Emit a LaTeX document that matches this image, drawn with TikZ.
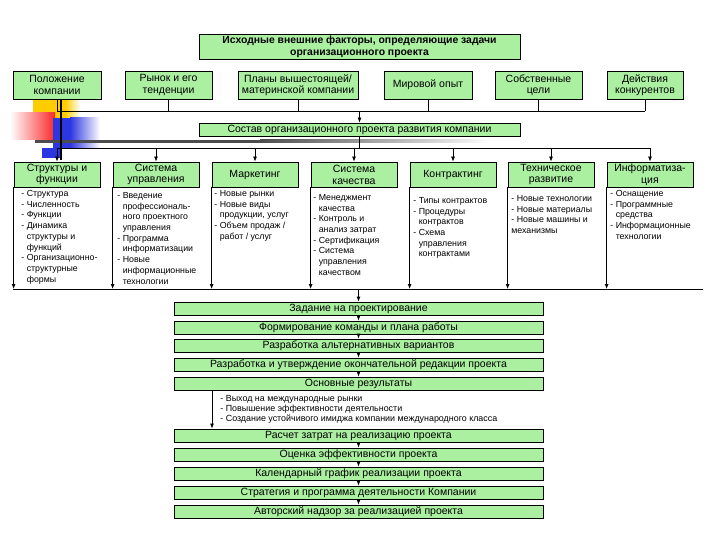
\documentclass[tikz,border=0pt]{standalone}
\usepackage{fontspec}
\setmainfont{Liberation Sans}
\usetikzlibrary{positioning,calc,arrows.meta}
\definecolor{boxgreen}{RGB}{170,240,160}
\definecolor{tplyellow}{RGB}{255,204,0}
\definecolor{tplred}{RGB}{250,40,40}
\definecolor{tplblue}{RGB}{45,55,225}
\newcommand{\contline}{\hphantom{-~}}

\tikzset{
  factorbox/.style={draw, fill=boxgreen, align=center, inner sep=0pt,
    minimum height=28pt, font=\fontsize{10.5}{11.5}\selectfont},
  topicbox/.style={draw, fill=boxgreen, align=center, inner sep=0pt,
    minimum width=86pt, minimum height=25pt, font=\fontsize{10.5}{11.8}\selectfont},
  stagebox/.style={draw, fill=boxgreen, inner sep=0pt,
    minimum width=369pt, minimum height=13pt, font=\fontsize{10.5}{11.5}\selectfont},
  notes/.style={align=left, inner sep=0pt, anchor=north west,
    font=\fontsize{8.8}{10.7}\selectfont}
}

\begin{document}
\begin{tikzpicture}[x=1pt, y=-1pt, line width=0.8pt, >={Latex[length=5pt,width=4pt]}]
  \useasboundingbox[fill=white] (0,0) rectangle (720,540);

  % template decoration
  \fill[tplyellow] (33,99) rectangle (65,118);
  \shade[left color=tplyellow, right color=white] (65,99) rectangle (80,118);
  \shade[left color=white, right color=tplred] (10,113) rectangle (55,140);
  \fill[tplblue] (53,118) rectangle (70,148);
  \shade[left color=tplblue, right color=white] (70,118) rectangle (100,148);
  \fill[tplblue] (42,148) rectangle (62,158);
  \fill[black!70] (35,140) rectangle (260,143);
  \shade[left color=black!70, right color=white] (260,140) rectangle (490,143);
  \draw[line width=2.5pt] (61,99) -- (61,160);

  \coordinate (busA) at (0,111);
  \coordinate (busB) at (0,148);
  \coordinate (busCl) at (13,289);
  \coordinate (busCr) at (703,289);

  \node[draw, fill=boxgreen, align=center, inner sep=0pt, minimum width=321pt,
    minimum height=25pt, font=\fontsize{10.4}{12}\selectfont\bfseries] (title) at (359.5,46.5)
    {Исходные внешние факторы, определяющие задачи\\организационного проекта};

  % external factors
  \foreach \l/\r/\t [count=\i] in {13/101/{Положение\\компании},
      125/212/{Рынок и его\\тенденции},
      238/358/{Планы вышестоящей/\\материнской компании},
      384/472/{Мировой опыт},
      495/582/{Собственные\\цели},
      607/683/{Действия\\конкурентов}}
    {
      \node[factorbox, minimum width={(\r-\l)*1pt}] (f\i) at ({(\l+\r)/2},85) {\t};
      \draw (f\i.south) -- (f\i.south |- busA);
    }
  \draw (f1.south |- busA) -- (f6.south |- busA);

  \node[draw, fill=boxgreen, inner sep=0pt, minimum width=321pt, minimum height=13pt,
    font=\fontsize{10.5}{11.5}\selectfont] (sostav) at (359.5,129.5)
    {Состав организационного проекта развития компании};
  \draw[->] (sostav.north |- busA) -- (sostav.north);
  \draw (sostav.south) -- (sostav.south |- busB);

  % project parts
  \foreach \l/\t [count=\i] in {14/{Структуры и\\функции}, 113/{Система\\управления},
      212/Маркетинг, 311/{Система\\качества}, 410/Контрактинг,
      508/{Техническое\\развитие}, 607/{Информатиза-\\ция}}
    {
      \node[topicbox] (c\i) at (\l+43,174.5) {\t};
      \draw[->] (c\i.north |- busB) -- (c\i.north);
      \draw[->] (c\i.south west) -- (c\i.south west |- busCl);
    }
  \draw (c1.north |- busB) -- (c7.north |- busB);
  \draw (busCl) -- (busCr);

  \foreach \x/\y/\t [count=\i] in {
      21/190/{- Структура\\- Численность\\- Функции\\- Динамика\\\contline структуры и\\\contline функций\\- Организационно-\\\contline структурные\\\contline формы},
      117/192/{- Введение\\\contline профессиональ-\\\contline ного проектного\\\contline управления\\- Программа\\\contline информатизации\\- Новые\\\contline информационные\\\contline технологии},
      214/190/{- Новые рынки\\- Новые виды\\\contline продукции, услуг\\- Объем продаж /\\\contline работ / услуг},
      313/194/{- Менеджмент\\\contline качества\\- Контроль и\\\contline анализ затрат\\- Сертификация\\- Система\\\contline управления\\\contline качеством},
      413/197/{- Типы контрактов\\- Процедуры\\\contline контрактов\\- Схема\\\contline управления\\\contline контрактами},
      511/195/{- Новые технологии\\- Новые материалы\\- Новые машины и\\механизмы},
      610/190/{- Оснащение\\- Программные\\\contline средства\\- Информационные\\\contline технологии}}
    {
      \node[notes] (n\i) at (\x,\y) {\t};
    }

  % project stages
  \foreach \y/\t [count=\i] in {302/Задание на проектирование,
      321/Формирование команды и плана работы,
      339/Разработка альтернативных вариантов,
      358/Разработка и утверждение окончательной редакции проекта,
      377/Основные результаты,
      429/Расчет затрат на реализацию проекта,
      448/Оценка эффективности проекта,
      467/Календарный график реализации проекта,
      486/Стратегия и программа деятельности Компании,
      505/Авторский надзор за реализацией проекта}
    {
      \node[stagebox] (s\i) at (358.5,\y+6.5) {\t};
    }
  \draw[->] (s1.north |- busCl) -- (s1.north);
  \foreach \i/\j in {1/2,2/3,3/4,4/5,6/7,7/8,8/9,9/10}
    \draw[->] (s\i) -- (s\j);

  \node[notes, font=\fontsize{8.9}{10}\selectfont] (res) at (220,395)
    {- Выход на международные рынки\\- Повышение эффективности деятельности\\- Создание устойчивого имиджа компании международного класса};
  \coordinate (resline) at (212,0);
  \draw[->] (s5.south -| resline) -- (s6.north -| resline);
\end{tikzpicture}
\end{document}
